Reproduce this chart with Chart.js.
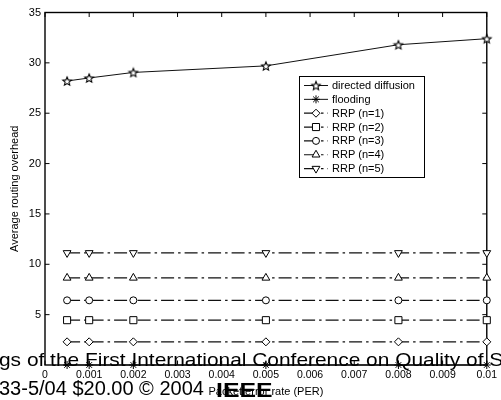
<!DOCTYPE html>
<html>
<head>
<meta charset="utf-8">
<script src="https://cdn.jsdelivr.net/npm/chart.js@4.4.0/dist/chart.umd.min.js"></script>
<style>
  html, body { margin: 0; padding: 0; background: #fff; }
  #wrap { position: relative; width: 501px; height: 400px; overflow: hidden; }
  #chart { position: absolute; left: 0; top: 0; }
  .page { position: absolute; white-space: nowrap; font-family: "Liberation Sans", Arial, sans-serif; color: #000; }
  #line1 { left: -1px; top: 350px; font-size: 19px; line-height: 19px; transform: scaleX(1.1); transform-origin: left top; }
  #line2 { left: -1px; top: 378px; font-size: 20px; line-height: 20px; }
  #ieee { left: 216px; top: 380px; font-weight: bold; font-size: 20px; line-height: 20px; transform: scaleX(1.24); transform-origin: left top; }
</style>
</head>
<body>
<div id="wrap">
  <canvas id="chart" width="501" height="400"></canvas>
  <div class="page" id="line1">gs of the First International Conference on Quality of S</div>
  <div class="page" id="line2">33-5/04 $20.00 © 2004</div>
  <div class="page" id="ieee">IEEE</div>
</div>
<script>
// ── Data ──
const perValues = [0.0005, 0.001, 0.002, 0.005, 0.008, 0.01];
const directedDiffusion = [28.2, 28.5, 29.05, 29.7, 31.8, 32.4];
const flooding = [0, 0, 0, 0, 0, 0];
const rrpN1 = [2.3, 2.3, 2.3, 2.3, 2.3, 2.3];
const rrpN2 = [4.45, 4.45, 4.45, 4.45, 4.45, 4.45];
const rrpN3 = [6.42, 6.42, 6.42, 6.42, 6.42, 6.42];
const rrpN4 = [8.65, 8.65, 8.65, 8.65, 8.65, 8.65];
const rrpN5 = [11.13, 11.13, 11.13, 11.13, 11.13, 11.13];

const xTicks = [0, 0.001, 0.002, 0.003, 0.004, 0.005, 0.006, 0.007, 0.008, 0.009, 0.01];
const yTicks = [5, 10, 15, 20, 25, 30, 35];

const FONT = '"Liberation Sans", Arial, sans-serif';
const DASH_DOT = [13, 4, 2.5, 4];

// pentagram marker for directed diffusion
function makeStar(r) {
  const c = document.createElement("canvas");
  const s = Math.ceil(r * 2 + 3);
  c.width = s; c.height = s;
  const g = c.getContext("2d");
  g.translate(s / 2, s / 2 + 0.5);
  g.beginPath();
  for (let k = 0; k < 10; k++) {
    const rad = k % 2 ? r * 0.45 : r;
    const a = -Math.PI / 2 + k * Math.PI / 5;
    g.lineTo(Math.cos(a) * rad, Math.sin(a) * rad);
  }
  g.closePath();
  g.fillStyle = "#fff"; g.fill();
  g.lineWidth = 1.1; g.strokeStyle = "#000"; g.stroke();
  return c;
}

const toPoints = ys => perValues.map((x, i) => ({ x, y: ys[i] }));

function series(label, ys, style, radius, dash, rotation = 0) {
  return {
    label,
    data: toPoints(ys),
    borderColor: "#111",
    borderWidth: dash.length ? 1.2 : 1,
    borderDash: dash,
    pointStyle: style,
    pointRadius: radius,
    pointRotation: rotation,
    pointBackgroundColor: "#fff",
    pointBorderColor: "#000",
    pointBorderWidth: 1,
    tension: 0,
    clip: false,
  };
}

// ── Frame + inward ticks ──
const frame = {
  id: "frame",
  beforeDatasetsDraw(chart) {
    const { ctx, chartArea: a, scales: { x, y } } = chart;
    const tl = 4.5;
    ctx.save();
    ctx.strokeStyle = "#000";
    ctx.lineWidth = 1.4;
    ctx.strokeRect(a.left, a.top, a.right - a.left, a.bottom - a.top);
    ctx.lineWidth = 1;
    ctx.beginPath();
    x.ticks.forEach(t => {
      const px = x.getPixelForValue(t.value);
      ctx.moveTo(px, a.bottom); ctx.lineTo(px, a.bottom - tl);
      ctx.moveTo(px, a.top); ctx.lineTo(px, a.top + tl);
    });
    y.ticks.forEach(t => {
      const py = y.getPixelForValue(t.value);
      ctx.moveTo(a.left, py); ctx.lineTo(a.left + tl, py);
      ctx.moveTo(a.right, py); ctx.lineTo(a.right - tl, py);
    });
    ctx.stroke();
    ctx.restore();
  },
};

// ── Legend box inside plot ──
const legendBox = {
  id: "legendBox",
  afterDatasetsDraw(chart) {
    const { ctx } = chart;
    const box = { left: 299.5, top: 76.5, right: 424.5, bottom: 177.5 };
    const firstRow = 85.5, rowGap = 13.85, x0 = 304, x1 = 328, textX = 332;
    ctx.save();
    ctx.fillStyle = "#fff";
    ctx.fillRect(box.left, box.top, box.right - box.left, box.bottom - box.top);
    ctx.strokeStyle = "#000";
    ctx.lineWidth = 1;
    ctx.strokeRect(box.left, box.top, box.right - box.left, box.bottom - box.top);
    ctx.font = "11px " + FONT;
    ctx.textBaseline = "middle";
    chart.data.datasets.forEach((ds, i) => {
      const yy = firstRow + i * rowGap;
      ctx.setLineDash(ds.borderDash || []);
      ctx.strokeStyle = ds.borderColor;
      ctx.lineWidth = ds.borderWidth;
      ctx.beginPath(); ctx.moveTo(x0, yy); ctx.lineTo(x1, yy); ctx.stroke();
      ctx.setLineDash([]);
      ctx.fillStyle = "#fff";
      ctx.strokeStyle = "#000";
      ctx.lineWidth = 1;
      Chart.helpers.drawPoint(ctx, {
        pointStyle: ds.pointStyle, radius: ds.pointRadius, rotation: ds.pointRotation, borderWidth: 1,
      }, (x0 + x1) / 2, yy);
      ctx.fillStyle = "#000";
      ctx.fillText(ds.label, textX, yy + 0.5);
    });
    ctx.restore();
  },
};

new Chart(document.getElementById("chart"), {
  type: "line",
  data: {
    datasets: [
      series("directed diffusion", directedDiffusion, makeStar(4.5), 4.5, []),
      series("flooding", flooding, "star", 4, []),
      series("RRP (n=1)", rrpN1, "rectRot", 4, DASH_DOT),
      series("RRP (n=2)", rrpN2, "rect", 5, DASH_DOT),
      series("RRP (n=3)", rrpN3, "circle", 3.5, DASH_DOT),
      series("RRP (n=4)", rrpN4, "triangle", 4.5, DASH_DOT),
      series("RRP (n=5)", rrpN5, "triangle", 4.5, DASH_DOT, 180),
    ],
  },
  options: {
    responsive: false,
    animation: false,
    layout: { padding: { top: 12.5, right: 10, left: 0, bottom: 0 } },
    plugins: { legend: { display: false }, tooltip: { enabled: false } },
    scales: {
      x: {
        type: "linear",
        min: 0, max: 0.01,
        afterBuildTicks: s => { s.ticks = xTicks.map(v => ({ value: v })); },
        afterFit: s => { s.height = 35; },
        grid: { display: false, drawTicks: false },
        border: { display: false },
        ticks: {
          color: "#000", font: { family: FONT, size: 10.5 }, padding: 4,
          maxRotation: 0, minRotation: 0, autoSkip: false,
          callback: v => String(Number(v.toFixed(3))),
        },
        title: { display: true, text: "Packet error rate (PER)", color: "#000", font: { family: FONT, size: 11 }, padding: { top: 0, bottom: 1 } },
      },
      y: {
        min: 0, max: 35,
        afterBuildTicks: s => { s.ticks = yTicks.map(v => ({ value: v })); },
        afterFit: s => { s.width = 45; },
        grid: { display: false, drawTicks: false },
        border: { display: false },
        ticks: { color: "#000", font: { family: FONT, size: 11 }, padding: 4 },
        title: { display: true, text: "Average routing overhead", color: "#000", font: { family: FONT, size: 11 }, padding: { top: 8, bottom: 0 } },
      },
    },
  },
  plugins: [frame, legendBox],
});
</script>
</body>
</html>
